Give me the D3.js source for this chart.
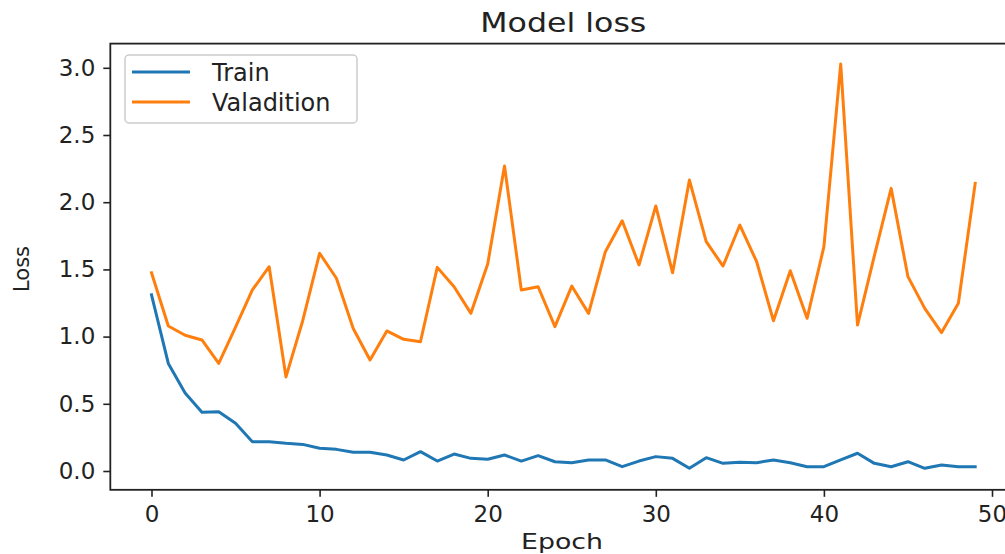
<!DOCTYPE html>
<html>
<head>
<meta charset="utf-8">
<script src="https://cdn.jsdelivr.net/npm/d3@7"></script>
<style>
  html, body { margin: 0; padding: 0; background: #fff; }
  svg { display: block; font-family: "DejaVu Sans", sans-serif; }
</style>
</head>
<body>
<svg id="chart" width="1005" height="554"></svg>
<script>
const epochs = d3.range(50);
const trainLoss = [1.31, 0.80, 0.58, 0.437, 0.44, 0.355, 0.218, 0.218, 0.206, 0.198,
  0.169, 0.161, 0.139, 0.139, 0.119, 0.082, 0.144, 0.074, 0.126, 0.094,
  0.087, 0.119, 0.074, 0.114, 0.069, 0.062, 0.082, 0.082, 0.032, 0.074,
  0.107, 0.094, 0.020, 0.099, 0.057, 0.065, 0.062, 0.082, 0.062, 0.032,
  0.032, 0.082, 0.132, 0.057, 0.032, 0.069, 0.020, 0.045, 0.032, 0.032];
const valLoss = [1.475, 1.079, 1.01, 0.975, 0.80, 1.07, 1.347, 1.52, 0.70, 1.12,
  1.62, 1.434, 1.06, 0.826, 1.042, 0.98, 0.962, 1.515, 1.371, 1.173,
  1.54, 2.27, 1.347, 1.371, 1.074, 1.376, 1.173, 1.632, 1.862, 1.533,
  1.972, 1.475, 2.165, 1.706, 1.525, 1.83, 1.557, 1.118, 1.49, 1.136,
  1.669, 3.028, 1.086, 1.60, 2.103, 1.446, 1.21, 1.03, 1.248, 2.14];
const xTicks = [0, 10, 20, 30, 40, 50];
const yTicks = [0.0, 0.5, 1.0, 1.5, 2.0, 2.5, 3.0];
const seriesNames = ["Train", "Valadition"];
const seriesColors = ["#1f77b4", "#ff7f0e"];
const titleText = "Model loss";
const xLabel = "Epoch";
const yLabel = "Loss";

const svg = d3.select("#chart");
const pxPerEpoch = (992 - 151.5) / 50;
const x = d3.scaleLinear().domain([-2.45, 51.45])
  .range([151.5 - 2.45 * pxPerEpoch, 151.5 + 51.45 * pxPerEpoch]);
const pxPerUnit = (471 - 67.8) / 3;
const y = d3.scaleLinear().domain([-0.14, 3.18])
  .range([471 + 0.14 * pxPerUnit, 471 - 3.18 * pxPerUnit]);

const plotLeft = x.range()[0], plotRight = x.range()[1];
const plotTop = y.range()[1], plotBottom = y.range()[0];

// lines
const line = d3.line().x((d, i) => x(epochs[i])).y(d => y(d));
[trainLoss, valLoss].forEach((s, k) => {
  svg.append("path").datum(s)
    .attr("fill", "none")
    .attr("stroke", seriesColors[k])
    .attr("stroke-width", 3)
    .attr("stroke-linejoin", "round")
    .attr("stroke-linecap", "square")
    .attr("d", line);
});

// axes
const xAxis = svg.append("g").attr("transform", `translate(0,${plotBottom})`)
  .call(d3.axisBottom(x).tickValues(xTicks).tickFormat(d3.format("d")).tickSize(7).tickPadding(6));
const yAxis = svg.append("g").attr("transform", `translate(${plotLeft},0)`)
  .call(d3.axisLeft(y).tickValues(yTicks).tickFormat(d3.format(".1f")).tickSize(7).tickPadding(8));
[xAxis, yAxis].forEach(a => {
  a.select(".domain").remove();
  a.selectAll(".tick line").attr("stroke", "#222").attr("stroke-width", 1.6);
  a.selectAll(".tick text").attr("fill", "#222").style("font-size", "23px")
    .style("font-family", "DejaVu Sans, sans-serif");
});
xAxis.selectAll(".tick text").attr("dy", "0.85em");

// frame
svg.append("rect")
  .attr("x", plotLeft).attr("y", plotTop)
  .attr("width", plotRight - plotLeft).attr("height", plotBottom - plotTop)
  .attr("fill", "none").attr("stroke", "#222").attr("stroke-width", 1.8);

// title & labels
svg.append("text").attr("x", (plotLeft + plotRight) / 2).attr("y", 32)
  .attr("text-anchor", "middle").attr("fill", "#222")
  .attr("textLength", 166).attr("lengthAdjust", "spacingAndGlyphs")
  .style("font-size", "27px").text(titleText);
svg.append("text").attr("x", 562).attr("y", 549)
  .attr("text-anchor", "middle").attr("fill", "#222")
  .attr("textLength", 82).attr("lengthAdjust", "spacingAndGlyphs")
  .style("font-size", "22px").text(xLabel);
svg.append("text").attr("transform", "translate(29,269) rotate(-90)")
  .attr("text-anchor", "middle").attr("fill", "#222")
  .style("font-size", "21px").text(yLabel);

// legend
const lg = svg.append("g");
lg.append("rect").attr("x", 125).attr("y", 55).attr("width", 232).attr("height", 68)
  .attr("rx", 4).attr("fill", "#fff").attr("fill-opacity", 0.8)
  .attr("stroke", "#ccc").attr("stroke-width", 1.5);
seriesNames.forEach((n, i) => {
  const yy = 72 + i * 30;
  lg.append("line").attr("x1", 132).attr("x2", 190).attr("y1", yy).attr("y2", yy)
    .attr("stroke", seriesColors[i]).attr("stroke-width", 3);
  lg.append("text").attr("x", 212).attr("y", yy).attr("dy", "0.36em")
    .attr("fill", "#222").style("font-size", "24px").text(n);
});
</script>
</body>
</html>
